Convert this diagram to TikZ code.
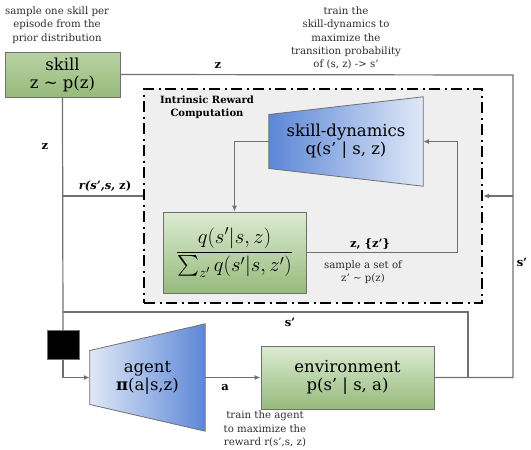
\documentclass[tikz,border=0pt]{standalone}
\usepackage{exscale}
\usepackage{fontspec}
\setmainfont{DejaVu Serif}
\usetikzlibrary{arrows.meta,positioning,calc,backgrounds}
\definecolor{linegray}{RGB}{112,112,112}
\definecolor{notegray}{RGB}{45,45,45}
\definecolor{darkgreen}{RGB}{150,186,124}
\definecolor{midgreen}{RGB}{184,211,163}
\definecolor{lightgreen}{RGB}{220,235,209}
\definecolor{netblue}{RGB}{92,135,214}
\definecolor{paleblue}{RGB}{223,232,248}
\definecolor{panelgray}{RGB}{239,239,239}
\tikzset{
  green box/.style={
    rectangle, draw=linegray, thick, top color=lightgreen, bottom color=darkgreen,
    align=center, inner sep=0pt, font=\fontsize{16.5}{18}\selectfont
  },
  net box/.style={
    rectangle, inner sep=0pt, align=center, font=\fontsize{16.5}{18}\selectfont
  },
  net shape/.style={draw=linegray, thick},
  panel/.style={
    rectangle, draw=black, line width=2.2pt, fill=panelgray,
    dash pattern=on 11pt off 4.5pt on 2pt off 4.5pt
  },
  flow line/.style={linegray, line width=1.2pt},
  flow arrow/.style={flow line, -{Latex[length=6pt, width=5pt]}},
  edge label/.style={font=\bfseries\fontsize{11.5}{13}\selectfont},
  note/.style={align=center, text=notegray, font=\fontsize{10.2}{13.3}\selectfont}
}

\begin{document}
\begin{tikzpicture}[x=1pt, y=-1pt]
    \useasboundingbox (0,0) rectangle (531,450);

    \node[green box, top color=midgreen, minimum width=115pt, minimum height=45pt] (skill) at (62.5,74.5) {skill\\z \textasciitilde{} p(z)};
    \node[note] (skillnote) at (57,25) {sample one skill per\\episode from the\\prior distribution};
    \node[note] (sdnote) at (346,38) {train the\\skill-dynamics to\\maximize the\\transition probability\\of (s, z) -> s’};

    \node[net box, minimum width=154pt, minimum height=89pt] (sd) at (346,141.5) {skill-dynamics\\q(s’ | s, z)};
    \node[green box, minimum width=143pt, minimum height=81pt, font=\fontsize{22}{26}\selectfont] (ratio) at (234.5,252.5)
      {$\displaystyle\frac{q(s'|s,z)}{\sum_{z'} q(s'|s,z')}$};
    \node[note] (zsample) at (363,272) {sample a set of\\z’ \textasciitilde{} p(z)};
    \node[font=\bfseries\fontsize{10}{13.5}\selectfont, align=center] (irctitle) at (207,107) {Intrinsic Reward\\Computation};

    \node[net box, minimum width=115pt, minimum height=107pt] (agent) at (147.5,377.5) {agent\\\textbf{π}(a|s,z)};
    \node[green box, minimum width=173pt, minimum height=63pt] (env) at (347.5,377.5) {environment\\p(s’ | s, a)};
    \node[note] (agentnote) at (265,429) {train the agent\\to maximize the\\reward r(s’,s, z)};
    \node[fill=black, draw=linegray, minimum width=32pt, minimum height=29pt, inner sep=0pt] (gate) at (63,344.5) {};

    \begin{pgfonlayer}{background}
      \node[panel, minimum width=338pt, minimum height=214pt] (irc) at (313,196) {};
      \shadedraw[net shape, left color=netblue, right color=paleblue]
        (sd.north east) -- (sd.south east) -- ($(sd.west)+(0,27)$) -- ($(sd.west)+(0,-27)$) -- cycle;
      \shadedraw[net shape, left color=paleblue, right color=netblue]
        (agent.north east) -- (agent.south east) -- ($(agent.west)+(0,27)$) -- ($(agent.west)+(0,-27)$) -- cycle;
    \end{pgfonlayer}

    \coordinate (outer) at (513,75);
    \coordinate (inner) at (468,312);
    \draw[flow line] (skill.east) -- (outer) |- (env.east);
    \draw[flow arrow] (outer |- irc.east) -- (irc.east);
    \draw[flow line] (env.east) -| (inner) -- (inner -| skill.south);
    \draw[flow line] (skill.south) -- (gate.north);
    \draw[flow arrow] (gate.south) |- (agent.west);
    \draw[flow line] (skill.south |- irc.west) -- (irc.west);
    \draw[flow arrow] (agent.east) -- (env.west);
    \draw[flow arrow] (sd.west) -| (ratio.north);
    \draw[flow arrow] (ratio.east) -| ($(sd.east)+(34,0)$) -- (sd.east);

    \node[edge label] (zskill) at (218,66) {z};
    \node[edge label] (zleft) at (45,147) {z};
    \node[edge label] (reward) at (105,186) {\itshape r(s’,s, \upshape z)};
    \node[edge label] (zset) at (370,244) {z, \{z’\}};
    \node[edge label] (snext) at (290,322) {s’};
    \node[edge label] (sright) at (522,262) {s’};
    \node[edge label] (action) at (225,388) {a};
\end{tikzpicture}
\end{document}
